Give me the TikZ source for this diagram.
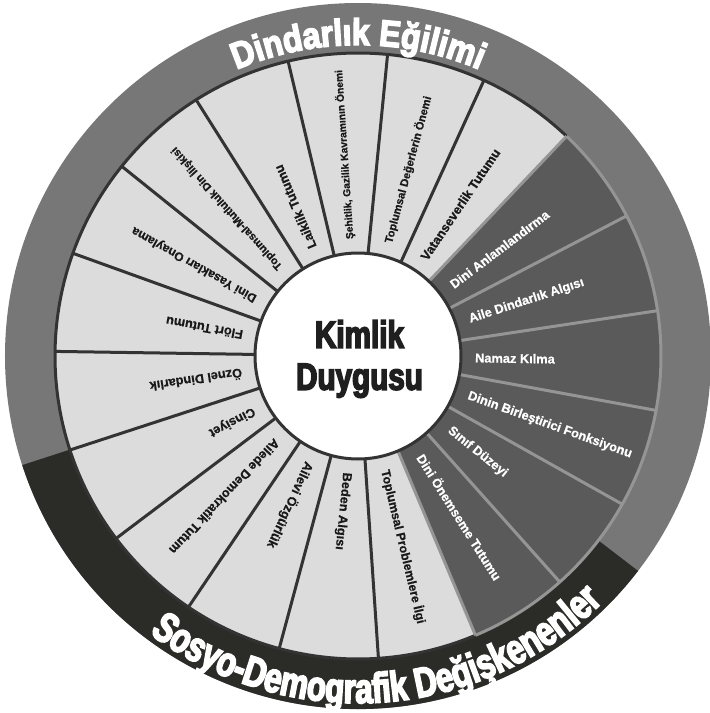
\documentclass[tikz,border=0pt]{standalone}
\usepackage{fontspec}
\setmainfont{Liberation Sans}
\newfontfamily\heavyfont{Liberation Sans}[UprightFont=* Bold,FakeStretch=0.78,FakeBold=4]
\newfontfamily\arcfont{Liberation Sans}[UprightFont=* Bold,FakeStretch=0.74,FakeBold=4]
\newfontfamily\titlefont{Liberation Sans}[UprightFont=* Bold,FakeStretch=0.86,FakeBold=4]
\newfontfamily\labelfont{Liberation Sans}[UprightFont=* Bold,FakeBold=0.6]
\usetikzlibrary{decorations.text}
\definecolor{ringgray}{HTML}{777777}
\definecolor{ringdark}{HTML}{2B2B28}
\definecolor{seclight}{HTML}{DCDCDC}
\definecolor{secdark}{HTML}{5A5A5A}
\definecolor{linedark}{HTML}{333333}
\definecolor{linelight}{HTML}{959595}
\tikzset{
  lbl/.style={inner sep=0pt,anchor=west,font=\labelfont\fontsize{12.8}{14}\selectfont,text=black!90},
  lblw/.style={lbl,text=white},
}

\begin{document}
\begin{tikzpicture}[x=1pt,y=1pt]
\useasboundingbox (-358,-357) rectangle (352,356);

\fill[ringgray] (0,0) circle[radius=353];
\fill[ringdark] (0,0) -- (198:353) arc[start angle=198,end angle=322.5,radius=353] -- cycle;
\fill[seclight] (0,0) circle[radius=303];
\fill[secdark] (0,0) -- (292.81:303) arc[start angle=292.81,end angle=406.5,radius=303] -- cycle;
\draw[linedark,line width=3] (46.5:303) arc[start angle=46.5,end angle=292.81,radius=303];
\draw[linelight,line width=3] (292.81:303) arc[start angle=292.81,end angle=406.5,radius=303];
\foreach \k in {1,...,12}
  \draw[linedark,line width=3] ({46.5+\k*360/19}:103) -- ({46.5+\k*360/19}:303);
\foreach \k in {13,...,19}
  \draw[linelight,line width=3] ({46.5+\k*360/19}:103) -- ({46.5+\k*360/19}:303);
\filldraw[fill=white,draw=linedark,line width=3] (0,0) circle[radius=103];

\node[lbl,rotate=55.97] (vatan) at (55.97:117) {Vatanseverlik Tutumu};
\node[lbl,rotate=74.92,font=\labelfont\fontsize{11.2}{13}\selectfont] (degerler) at (74.92:117) {Toplumsal Değerlerin Önemi};
\node[lbl,rotate=93.87,font=\labelfont\fontsize{10.3}{12}\selectfont] (sehitlik) at (93.87:117) {Şehitlik, Gazilik Kavramının Önemi};
\node[lbl,rotate=112.82] (laiklik) at (112.82:117) {Laiklik Tutumu};
\node[lbl,rotate=131.76,font=\labelfont\fontsize{11}{13}\selectfont] (mutluluk) at (131.76:117) {Toplumsal-Mutluluk Din İlişkisi};
\node[lbl,rotate=150.71,font=\labelfont\fontsize{12.2}{14}\selectfont] (yasak) at (150.71:117) {Dini Yasakları Onaylama};
\node[lbl,rotate=169.66] (flort) at (169.66:117) {Flört Tutumu};
\node[lbl,rotate=188.60] (oznel) at (188.60:117) {Öznel Dindarlık};
\node[lbl,rotate=207.55] (cinsiyet) at (207.55:117) {Cinsiyet};
\node[lbl,rotate=226.50] (demokratik) at (226.50:117) {Ailede Demokratik Tutum};
\node[lbl,rotate=245.45] (ozgurluk) at (245.45:117) {Ailevi Özgürlük};
\node[lbl,rotate=264.39] (beden) at (264.39:117) {Beden Algısı};
\node[lbl,rotate=283.34,font=\labelfont\fontsize{12.4}{14}\selectfont] (problem) at (283.34:117) {Toplumsal Problemlere İlgi};
\node[lblw,rotate=302.29] (onemseme) at (302.29:117) {Dini Önemseme Tutumu};
\node[lblw,rotate=321.24] (sinif) at (321.24:117) {Sınıf Düzeyi};
\node[lblw,rotate=340.18] (birlestirici) at (340.18:117) {Dinin Birleştirici Fonksiyonu};
\node[lblw,rotate=359.13] (namaz) at (359.13:117) {Namaz Kılma};
\node[lblw,rotate=18.08] (aile) at (18.08:117) {Aile Dindarlık Algısı};
\node[lblw,rotate=37.03] (anlam) at (37.03:117) {Dini Anlamlandırma};

\node[font=\heavyfont\fontsize{38}{42}\selectfont,align=center,text=black!88] (kimlik) at (1.5,-3) {Kimlik\\Duygusu};

\path[decorate,decoration={text along path,text align=center,
  text={|\titlefont\fontsize{37}{37}\selectfont\color{white}|Dindarlık Eğilimi}}]
  (150:311) arc[start angle=150,end angle=30,radius=311];
\path[decorate,decoration={text along path,text align=center,
  text={|\arcfont\fontsize{42}{42}\selectfont\color{white}|Sosyo-Demografik Değişkenenler}}]
  (204:347) arc[start angle=204,end angle=344,radius=347];
\end{tikzpicture}
\end{document}
